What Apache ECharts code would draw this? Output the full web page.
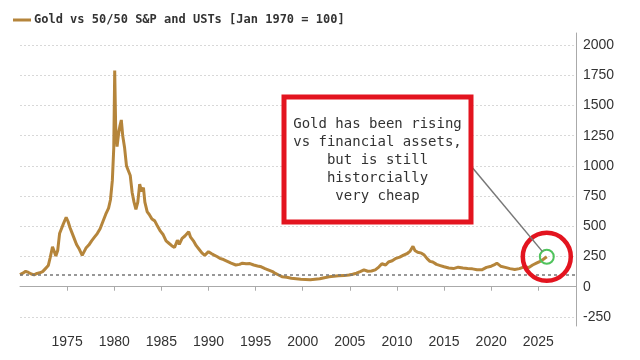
<!DOCTYPE html>
<html><head><meta charset="utf-8">
<script src="https://cdn.jsdelivr.net/npm/echarts@6/dist/echarts.min.js"></script>
<style>html,body{margin:0;padding:0;background:#fff}#c{width:640px;height:360px}</style>
</head><body><div id="c"></div>
<script>
const seriesName = 'Gold vs 50/50 S&P and USTs [Jan 1970 = 100]';
const years = [1970.0,1970.3,1970.6,1970.9,1971.2,1971.5,1971.8,1972.1,1972.4,1972.7,1973.0,1973.2,1973.45,1973.6,1973.8,1974.0,1974.2,1974.4,1974.6,1974.9,1975.1,1975.3,1975.5,1975.8,1976.0,1976.3,1976.6,1976.8,1977.0,1977.3,1977.6,1977.9,1978.2,1978.5,1978.8,1979.1,1979.4,1979.6,1979.8,1979.95,1980.05,1980.15,1980.3,1980.45,1980.6,1980.75,1980.9,1981.1,1981.3,1981.5,1981.7,1981.9,1982.1,1982.3,1982.5,1982.7,1982.9,1983.1,1983.25,1983.5,1983.7,1984.0,1984.3,1984.6,1984.9,1985.2,1985.5,1985.8,1986.1,1986.4,1986.7,1986.9,1987.2,1987.5,1987.9,1988.1,1988.4,1988.7,1989.0,1989.3,1989.6,1990.0,1990.3,1990.6,1990.9,1991.2,1991.6,1992.0,1992.4,1992.9,1993.3,1993.6,1994.0,1994.4,1994.8,1995.2,1995.6,1996.0,1996.4,1996.8,1997.1,1997.5,1997.8,1998.3,1998.8,1999.3,1999.8,2000.3,2000.8,2001.3,2001.8,2002.3,2002.8,2003.3,2003.8,2004.4,2004.9,2005.3,2005.7,2006.1,2006.5,2006.9,2007.3,2007.7,2008.1,2008.4,2008.8,2009.1,2009.5,2009.9,2010.3,2010.7,2011.1,2011.4,2011.7,2011.9,2012.2,2012.6,2012.9,2013.2,2013.5,2013.8,2014.2,2014.6,2015.0,2015.5,2016.0,2016.5,2017.0,2017.5,2018.0,2018.5,2019.0,2019.5,2020.0,2020.3,2020.6,2021.0,2021.5,2022.0,2022.5,2023.0,2023.5,2024.0,2024.4,2024.8,2025.2,2025.5,2025.9];
const gold = [100,112,128,118,105,98,110,115,125,150,175,240,330,300,255,300,440,480,520,575,540,490,450,390,350,310,260,275,320,345,380,410,440,480,540,600,650,720,880,1150,1790,1330,1160,1260,1330,1380,1250,1150,1000,960,920,780,700,640,700,850,790,820,700,620,600,560,545,500,460,430,380,360,340,325,385,350,400,420,455,410,380,340,310,280,260,290,275,262,250,235,225,210,195,180,185,195,190,192,180,172,165,150,138,125,110,95,83,78,70,66,62,60,58,62,66,75,82,86,90,92,97,103,112,125,140,128,130,140,165,190,180,205,215,235,245,262,275,295,335,300,285,278,262,232,210,205,185,175,165,155,150,162,155,150,148,140,140,160,170,180,195,170,160,150,142,150,165,160,180,195,210,225,248];
const xTicks = [1975,1980,1985,1990,1995,2000,2005,2010,2015,2020,2025];
const yTicks = [-250,0,250,500,750,1000,1250,1500,1750,2000];
const refLevel = 100;
const noteLines = ['Gold has been rising','vs financial assets,','but is still','historcially','very cheap'];

const lineColor = '#b5853b';
const chart = echarts.init(document.getElementById('c'), null, {renderer:'canvas'});
const data = years.map((y,i)=>[y, gold[i]]);
const last = data[data.length-1];

chart.setOption({
  animation:false,
  backgroundColor:'#fff',
  grid:{left:20,right:64,top:33,bottom:34},
  legend:{
    left:8, top:9, itemWidth:18, itemHeight:3, itemGap:4, icon:'rect',
    textStyle:{fontFamily:'DejaVu Sans Mono', fontSize:12, fontWeight:'bold', color:'#333', padding:[0,0,0,-2]},
    data:[seriesName]
  },
  xAxis:{
    type:'value', min:1970, max:2029,
    axisLine:{show:true,lineStyle:{color:'#aaa',width:1}},
    axisTick:{show:true,length:4,lineStyle:{color:'#aaa'},customValues:xTicks},
    axisLabel:{customValues:xTicks,formatter:v=>String(v),color:'#333',fontFamily:'Liberation Sans',fontSize:14,margin:9},
    splitLine:{show:false}
  },
  yAxis:{
    type:'value', position:'right', min:-325, max:2100,
    axisLine:{show:true,lineStyle:{color:'#aaa',width:1}},
    axisTick:{show:false,customValues:yTicks},
    axisLabel:{customValues:yTicks,formatter:v=>String(v),color:'#333',fontFamily:'Liberation Sans',fontSize:14,margin:7},
    splitLine:{show:true,lineStyle:{color:'#d8d8d8',type:[2,2],width:1}}
  },
  series:[{
    name:seriesName, type:'line', data:data, showSymbol:false, symbol:'none',
    lineStyle:{color:lineColor,width:3}, itemStyle:{color:lineColor},
    markLine:{silent:true,symbol:'none',label:{show:false},
      lineStyle:{color:'#777',type:[3,3],width:1.5},
      data:[{yAxis:refLevel}]},
    markPoint:{silent:true,label:{show:false},
      data:[
        {coord:last,symbol:'circle',symbolSize:48,itemStyle:{color:'rgba(0,0,0,0)',borderColor:'#e3141f',borderWidth:4.5}},
        {coord:last,symbol:'circle',symbolSize:14,itemStyle:{color:'rgba(0,0,0,0)',borderColor:'#4fc35c',borderWidth:2}}
      ]}
  }]
});

const p = chart.convertToPixel({gridIndex:0}, last);
const sx = 471, sy = 166;
const dx = p[0]-sx, dy = p[1]-sy, L = Math.hypot(dx,dy);
const ex = p[0]-dx/L*7, ey = p[1]-dy/L*7;
chart.setOption({
  graphic:[
    {type:'line',shape:{x1:sx,y1:sy,x2:ex,y2:ey},style:{stroke:'#777',lineWidth:1.5},z:20},
    {type:'rect',shape:{x:284,y:97,width:187,height:125},style:{fill:'#fff',stroke:'#e3141f',lineWidth:5},z:21},
    {type:'text',x:377.5,y:160,z:22,style:{text:noteLines.join('\n'),fill:'#333',font:'14px "DejaVu Sans Mono"',align:'center',verticalAlign:'middle',lineHeight:18}}
  ]
});
</script>
</body></html>
